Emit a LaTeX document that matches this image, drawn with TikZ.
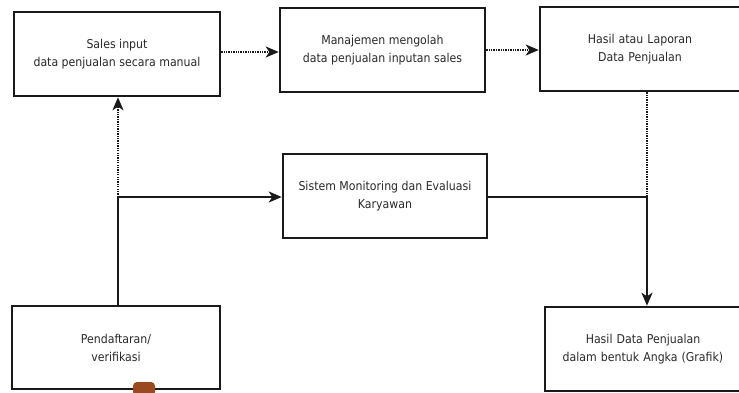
\documentclass[tikz,border=0pt]{standalone}
\usepackage{fontspec}
\setmainfont{DejaVu Sans Condensed}
\usetikzlibrary{arrows.meta}
\definecolor{txt}{HTML}{2A2A2A}
\definecolor{brd}{HTML}{1A1A1A}
\definecolor{tab}{HTML}{9A4A1E}
\tikzset{
  box/.style={draw=brd, line width=2.5pt, fill=white, inner sep=0pt, align=center,
    text=txt, font=\fontsize{12.2}{18}\selectfont},
  solidcon/.style={draw=brd, line width=2pt},
  dotcon/.style={draw=brd, line width=2pt, dash pattern=on 1.3pt off 1.1pt},
  tip/.style={-{Stealth[length=13pt,width=11pt,inset=3.5pt]}},
}
\begin{document}
\begin{tikzpicture}[x=1pt,y=-1pt]
\useasboundingbox (0,0) rectangle (739,393);
\fill[white] (0,0) rectangle (739,393);
\node[box, minimum width=206pt, minimum height=84pt] (sales) at (117,54) {Sales input\\data penjualan secara manual};
\node[box, minimum width=205pt, minimum height=84pt] (mgmt) at (382.5,50) {Manajemen mengolah\\data penjualan inputan sales};
\node[box, minimum width=200pt, minimum height=84pt, text width=196pt] (lap) at (640,49) {Hasil atau Laporan\\Data Penjualan};
\node[box, minimum width=204pt, minimum height=84pt] (sis) at (385,196) {Sistem Monitoring dan Evaluasi\\Karyawan};
\node[box, minimum width=208pt, minimum height=83pt] (daf) at (116,347.5) {Pendaftaran/\\verifikasi};
\node[box, minimum width=196pt, minimum height=84pt, text width=196pt] (graf) at (643,349) {Hasil Data Penjualan\\dalam bentuk Angka (Grafik)};
\coordinate (j1) at (118,197);
\coordinate (j2) at (647,197);
% dotted flows
\draw[dotcon, tip] (sales.east |- 0,52) -- (mgmt.west |- 0,52);
\draw[dotcon, tip] (mgmt.east |- 0,50) -- (lap.west |- 0,50);
\draw[dotcon, tip] (j1) -- (j1 |- sales.south);
\draw[dotcon] (j2 |- lap.south) -- (j2);
% solid flows
\draw[solidcon] (j1 |- daf.north) -- (j1);
\draw[solidcon, tip] (j1) -- (j1 -| sis.west);
\draw[solidcon] (sis.east |- j2) -- (j2);
\draw[solidcon, tip] (j2) -- (j2 |- graf.north);
% small tab artifact
\fill[tab, rounded corners=4pt] (133,396) -- (133,382) -- (155,382) -- (155,396) -- cycle;
\end{tikzpicture}
\end{document}
